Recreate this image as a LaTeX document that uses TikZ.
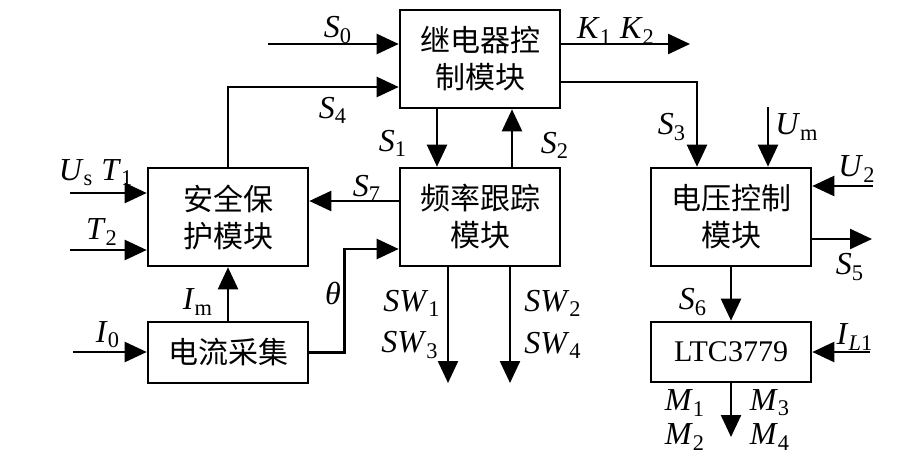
\documentclass[tikz,border=0pt]{standalone}
\usepackage{fontspec}
\setmainfont{Liberation Serif}
\newfontfamily\cjk{Noto Sans CJK SC}
\usetikzlibrary{arrows.meta}
\tikzset{>={Triangle[length=11pt,width=10pt]}}
\newcommand{\sg}[2]{\textit{#1}\textsubscript{#2}}

\begin{document}
\begin{tikzpicture}[x=0.5pt, y=-0.5pt, line width=1.2pt,
     blk/.style={draw, line width=1.3pt, minimum width=80pt, minimum height=49pt, align=center, inner sep=0pt, font=\cjk\fontsize{15}{18.5}\selectfont},
     lbl/.style={inner sep=0pt, font=\fontsize{16}{18}\selectfont}]
     \useasboundingbox (0,0) rectangle (913,460);
     \node[blk] (relay) at (480,59) {继电器控\\制模块};
     \node[blk] (freq) at (480,217) {频率跟踪\\模块};
     \node[blk] (safe) at (228,217) {安全保\\护模块};
     \node[blk, minimum height=30.5pt] (curr) at (228,352.5) {电流采集};
     \node[blk] (volt) at (731,217) {电压控制\\模块};
     \node[blk, minimum height=30pt, font=\fontsize{15}{18}\selectfont] (ltc) at (731,352) {LTC3779};
     \coordinate (s0) at (268,44);
     \coordinate (s4) at (228,87);
     \coordinate (ust) at (70,193);
     \coordinate (t2) at (70,250);
     \coordinate (i0) at (73,352);
     \coordinate (sw1) at (448,383);
     \coordinate (sw2) at (510,383);
     \coordinate (k) at (690,44);
     \coordinate (s3) at (697,82);
     \coordinate (um) at (768,107);
     \coordinate (u2) at (873,186);
     \coordinate (s5) at (872,239);
     \coordinate (il) at (870,352);
     \coordinate (m) at (731,437);
     \draw[->] (s0) -- (s0 -| relay.west);
     \draw[->] (safe.north) |- (s4 -| relay.west);
     \draw[->] ([xshift=-21.5pt]relay.south) -- ([xshift=-21.5pt]freq.north);
     \draw[->] ([xshift=16pt]freq.north) -- ([xshift=16pt]relay.south);
     \draw[->] ([yshift=8pt]freq.west) -- ([yshift=8pt]safe.east);
     \draw[->] (ust) -- (ust -| safe.west);
     \draw[->] (t2) -- (t2 -| safe.west);
     \draw[->] (curr) -- (safe);
     \draw[->] (i0) -- (i0 -| curr.west);
     \draw[->] (curr.east) -- ++(35,0) |- ([yshift=-16pt]freq.west);
     \draw[->] (sw1 |- freq.south) -- (sw1);
     \draw[->] (sw2 |- freq.south) -- (sw2);
     \draw[->] (k -| relay.east) -- (k);
     \draw[->] (s3 -| relay.east) -| (s3 |- volt.north);
     \draw[->] (um) -- (um |- volt.north);
     \draw[->] (u2) -- (u2 -| volt.east);
     \draw[->] (s5 -| volt.east) -- (s5);
     \draw[->] (volt) -- (ltc);
     \draw[->] (il) -- (il -| ltc.east);
     \draw[->] (ltc) -- (m);
     \node[lbl] (lS0) at (338,30) {\sg{S}{0}};
     \node[lbl] (lS4) at (333,110) {\sg{S}{4}};
     \node[lbl] (lS1) at (393,143) {\sg{S}{1}};
     \node[lbl] (lS2) at (555,145) {\sg{S}{2}};
     \node[lbl] (lS7) at (367,188) {\sg{S}{7}};
     \node[lbl] (lUsT1) at (96,173) {\sg{U}{s} \sg{T}{1}};
     \node[lbl] (lT2) at (102,232) {\sg{T}{2}};
     \node[lbl] (lIm) at (198,302) {\sg{I}{m}};
     \node[lbl] (lI0) at (108,335) {\sg{I}{0}};
     \node[lbl] (ltheta) at (333,293) {\textit{θ}};
     \node[lbl] (lSW1) at (412,303) {\sg{SW}{1}};
     \node[lbl] (lSW3) at (410,345) {\sg{SW}{3}};
     \node[lbl] (lSW2) at (553,303) {\sg{SW}{2}};
     \node[lbl] (lSW4) at (553,345) {\sg{SW}{4}};
     \node[lbl] (lK) at (616,31) {\sg{K}{1} \sg{K}{2}};
     \node[lbl] (lS3) at (672,127) {\sg{S}{3}};
     \node[lbl] (lUm) at (797,127) {\sg{U}{m}};
     \node[lbl] (lU2) at (857,169) {\sg{U}{2}};
     \node[lbl] (lS5) at (850,267) {\sg{S}{5}};
     \node[lbl] (lS6) at (693,302) {\sg{S}{6}};
     \node[lbl] (lIL1) at (855,337) {\textit{I}\textsubscript{\textit{L}1}};
     \node[lbl] (lM1) at (685,403) {\sg{M}{1}};
     \node[lbl] (lM2) at (685,437) {\sg{M}{2}};
     \node[lbl] (lM3) at (770,403) {\sg{M}{3}};
     \node[lbl] (lM4) at (770,437) {\sg{M}{4}};
\end{tikzpicture}
\end{document}
